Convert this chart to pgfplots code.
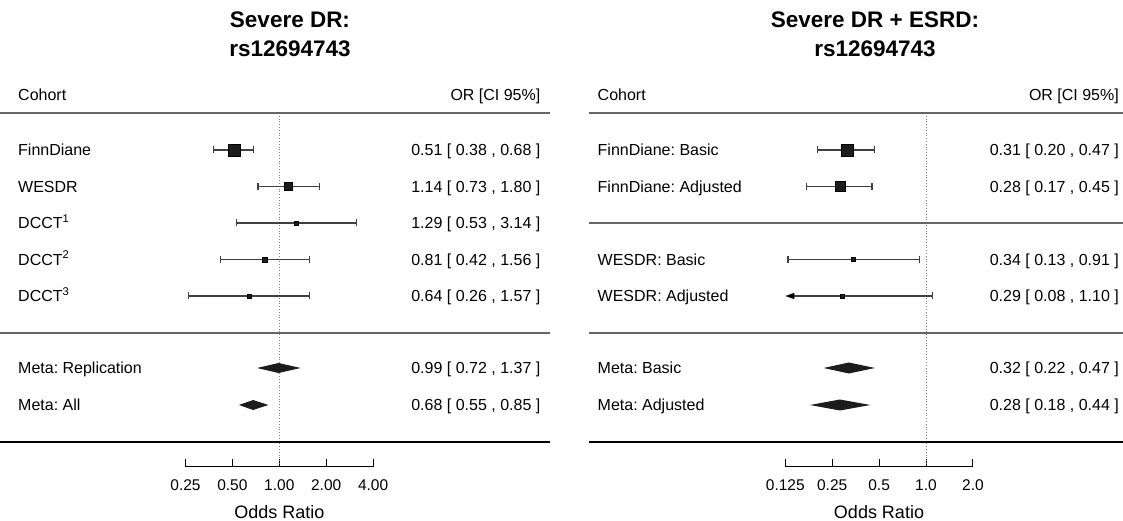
\documentclass[border=0pt]{standalone}
\usepackage{pgfplots}
\pgfplotsset{compat=1.18}
\usepackage{fontspec}
\setmainfont{Liberation Sans}
\usetikzlibrary{arrows.meta}
\frenchspacing
\definecolor{cil}{HTML}{404040}
\definecolor{boxc}{HTML}{1C1C1C}
\definecolor{sepg}{HTML}{666666}
\newcommand{\bodyfont}{\fontsize{16pt}{19pt}\selectfont}
\newcommand{\tickfont}{\fontsize{15.5pt}{18pt}\selectfont}
% text helpers (pixel positions: x from left, y = vertical centre from top)
\newcommand{\lab}[3]{\node[anchor=base west,inner sep=0pt,font=\bodyfont] at ({#1pt},{521pt-#2pt-5.7pt}) {#3};}
\newcommand{\rlab}[3]{\node[anchor=base east,inner sep=0pt,font=\bodyfont] at ({#1pt},{521pt-#2pt-5.7pt}) {#3};}
\pgfplotsset{
  ci/.style={cil,line width=1.1pt,mark=|,mark size=3.5pt,mark options={solid}},
  bx/.style={only marks,mark=square*,mark options={fill=boxc,draw=none}},
  diam/.style={fill=boxc,draw=none,mark=none},
  refline/.style={gray,line width=0.8pt,dotted,mark=none},
}
\begin{document}
\begin{tikzpicture}
\useasboundingbox (0,0) rectangle (1123pt,521pt);
% ---------------- Left panel ----------------
\begin{axis}[at={(0pt,54pt)}, anchor=south west,
  scale only axis, width=560pt, height=467pt,
  xmode=log, log basis x=2,
  xmin=0.016118, xmax=63.34, ymin=-467, ymax=0,
  axis x line=bottom, axis y line=none,
  x axis line style={draw=none,-},
  xtick align=inside, major tick length=8pt,
  every tick/.style={black,line width=1pt},
  xticklabel style={font=\tickfont,anchor=north,inner sep=0pt,yshift=-12pt},
  clip=false,
  xtick={0.25,0.5,1,2,4}, xticklabels={0.25,0.50,1.00,2.00,4.00}]
  \addplot[refline] coordinates {(1,-113) (1,-467)};
  \draw[black,line width=1pt] (axis cs:0.25,-467) -- (axis cs:4,-467);
  % confidence intervals
  \addplot[ci] coordinates {(0.38,-150) (0.68,-150)};
  \addplot[ci] coordinates {(0.73,-186.5) (1.80,-186.5)};
  \addplot[ci] coordinates {(0.53,-223) (3.14,-223)};
  \addplot[ci] coordinates {(0.42,-259.5) (1.56,-259.5)};
  \addplot[ci] coordinates {(0.26,-296) (1.57,-296)};
  % point estimates
  \addplot[bx,mark size=6pt] coordinates {(0.51,-150)};
  \addplot[bx,mark size=4pt] coordinates {(1.14,-186.5)};
  \addplot[bx,mark size=2pt] coordinates {(1.29,-223)};
  \addplot[bx,mark size=2.6pt] coordinates {(0.81,-259.5)};
  \addplot[bx,mark size=2.1pt] coordinates {(0.64,-296)};
  % meta diamonds
  \addplot[diam] coordinates {(0.72,-368) (0.99,-363) (1.37,-368) (0.99,-373)};
  \addplot[diam] coordinates {(0.55,-405) (0.68,-400) (0.85,-405) (0.68,-410)};
\end{axis}
% ---------------- Right panel ----------------
\begin{axis}[at={(560pt,54pt)}, anchor=south west,
  scale only axis, width=563pt, height=467pt,
  xmode=log, log basis x=2,
  xmin=0.0044753, xmax=18.384, ymin=-467, ymax=0,
  axis x line=bottom, axis y line=none,
  x axis line style={draw=none,-},
  xtick align=inside, major tick length=8pt,
  every tick/.style={black,line width=1pt},
  xticklabel style={font=\tickfont,anchor=north,inner sep=0pt,yshift=-12pt},
  clip=false,
  xtick={0.125,0.25,0.5,1,2}, xticklabels={0.125,0.25,0.5,1.0,2.0}]
  \addplot[refline] coordinates {(1,-113) (1,-467)};
  \draw[black,line width=1pt] (axis cs:0.125,-467) -- (axis cs:2,-467);
  \addplot[ci] coordinates {(0.20,-150) (0.47,-150)};
  \addplot[ci] coordinates {(0.17,-186.5) (0.45,-186.5)};
  \addplot[ci] coordinates {(0.13,-259.5) (0.91,-259.5)};
  \addplot[cil,line width=1.1pt,mark=none,-{Triangle[length=9pt,width=6pt,fill=black,color=black]}] coordinates {(1.10,-296) (0.125,-296)};
  \addplot[ci,only marks] coordinates {(1.10,-296)};
  \addplot[bx,mark size=6pt] coordinates {(0.31,-150)};
  \addplot[bx,mark size=5pt] coordinates {(0.28,-186.5)};
  \addplot[bx,mark size=2.2pt] coordinates {(0.34,-259.5)};
  \addplot[bx,mark size=1.9pt] coordinates {(0.29,-296)};
  \addplot[diam] coordinates {(0.22,-368) (0.32,-362.5) (0.47,-368) (0.32,-373.5)};
  \addplot[diam] coordinates {(0.18,-405) (0.28,-399.5) (0.44,-405) (0.28,-410.5)};
\end{axis}
% ---------------- separators ----------------
\draw[sepg,line width=1.2pt] (0pt,{521pt-113pt}) -- (550pt,{521pt-113pt});
\draw[sepg,line width=1.2pt] (0pt,{521pt-333pt}) -- (550pt,{521pt-333pt});
\draw[black,line width=1.2pt] (0pt,{521pt-442pt}) -- (550pt,{521pt-442pt});
\draw[sepg,line width=1.2pt] (589pt,{521pt-113pt}) -- (1123pt,{521pt-113pt});
\draw[sepg,line width=1.2pt] (589pt,{521pt-223pt}) -- (1123pt,{521pt-223pt});
\draw[sepg,line width=1.2pt] (589pt,{521pt-333pt}) -- (1123pt,{521pt-333pt});
\draw[black,line width=1.2pt] (589pt,{521pt-442pt}) -- (1123pt,{521pt-442pt});
% ---------------- titles ----------------
\node[anchor=base,inner sep=0pt,font=\fontsize{22.5pt}{26pt}\selectfont\bfseries] at (290pt,{521pt-28pt}) {Severe DR:};
\node[anchor=base,inner sep=0pt,font=\fontsize{22.5pt}{26pt}\selectfont\bfseries] at (290pt,{521pt-57pt}) {rs12694743};
\node[anchor=base,inner sep=0pt,font=\fontsize{22.5pt}{26pt}\selectfont\bfseries] at (875pt,{521pt-28pt}) {Severe DR + ESRD:};
\node[anchor=base,inner sep=0pt,font=\fontsize{22.5pt}{26pt}\selectfont\bfseries] at (875pt,{521pt-57pt}) {rs12694743};
% ---------------- headers ----------------
\lab{18}{95}{Cohort}
\rlab{540.5}{95}{OR [CI 95\%]}
\lab{597.5}{95}{Cohort}
\rlab{1119}{95}{OR [CI 95\%]}
% ---------------- left rows ----------------
\lab{18}{150}{FinnDiane}
\lab{18}{186.5}{WESDR}
\lab{18}{223}{DCCT\textsuperscript{1}}
\lab{18}{259.5}{DCCT\textsuperscript{2}}
\lab{18}{296}{DCCT\textsuperscript{3}}
\lab{18}{368}{Meta: Replication}
\lab{18}{405}{Meta: All}
\rlab{540.5}{150}{0.51 [ 0.38 , 0.68 ]}
\rlab{540.5}{186.5}{1.14 [ 0.73 , 1.80 ]}
\rlab{540.5}{223}{1.29 [ 0.53 , 3.14 ]}
\rlab{540.5}{259.5}{0.81 [ 0.42 , 1.56 ]}
\rlab{540.5}{296}{0.64 [ 0.26 , 1.57 ]}
\rlab{540.5}{368}{0.99 [ 0.72 , 1.37 ]}
\rlab{540.5}{405}{0.68 [ 0.55 , 0.85 ]}
% ---------------- right rows ----------------
\lab{597.5}{150}{FinnDiane: Basic}
\lab{597.5}{186.5}{FinnDiane: Adjusted}
\lab{597.5}{259.5}{WESDR: Basic}
\lab{597.5}{296}{WESDR: Adjusted}
\lab{597.5}{368}{Meta: Basic}
\lab{597.5}{405}{Meta: Adjusted}
\rlab{1119}{150}{0.31 [ 0.20 , 0.47 ]}
\rlab{1119}{186.5}{0.28 [ 0.17 , 0.45 ]}
\rlab{1119}{259.5}{0.34 [ 0.13 , 0.91 ]}
\rlab{1119}{296}{0.29 [ 0.08 , 1.10 ]}
\rlab{1119}{368}{0.32 [ 0.22 , 0.47 ]}
\rlab{1119}{405}{0.28 [ 0.18 , 0.44 ]}
% ---------------- axis titles ----------------
\node[anchor=base,inner sep=0pt,font=\fontsize{18pt}{21pt}\selectfont] at (279.3pt,{521pt-519pt}) {Odds Ratio};
\node[anchor=base,inner sep=0pt,font=\fontsize{18pt}{21pt}\selectfont] at (879pt,{521pt-519pt}) {Odds Ratio};
\end{tikzpicture}
\end{document}
